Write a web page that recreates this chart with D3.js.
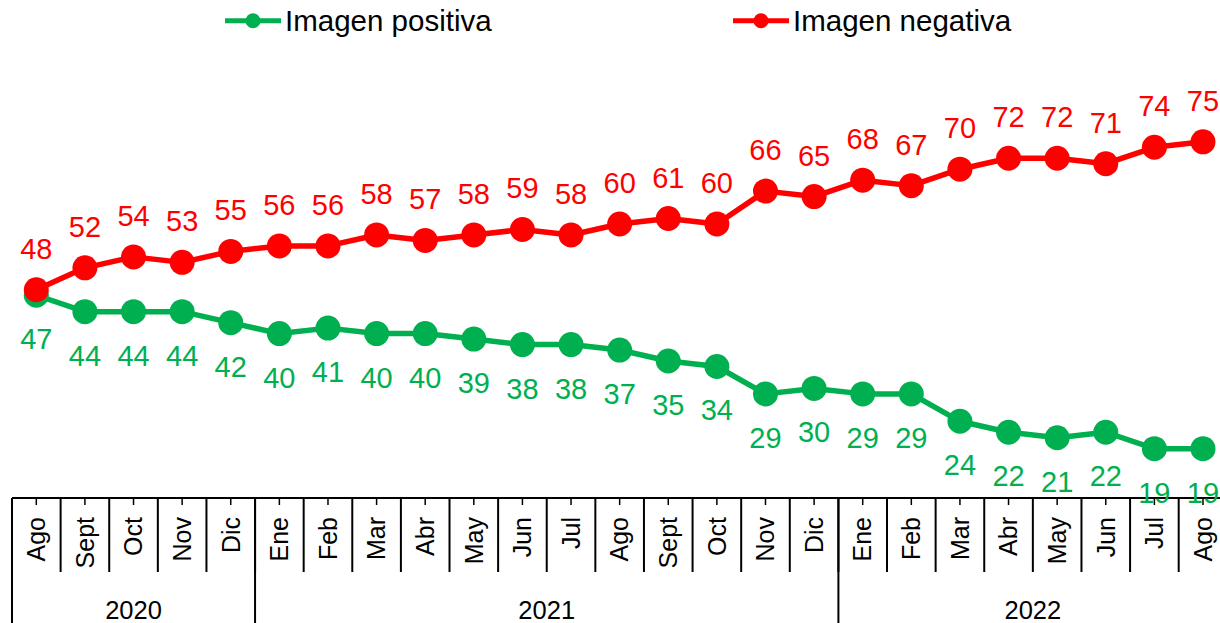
<!DOCTYPE html>
<html>
<head>
<meta charset="utf-8">
<script src="https://cdn.jsdelivr.net/npm/d3@7"></script>
<style>
  html, body { margin: 0; padding: 0; background: #fff; }
  svg { display: block; font-family: "Liberation Sans", Arial, sans-serif; }
</style>
</head>
<body>
<svg id="chart" width="1220" height="623"></svg>
<script>
const months = ["Ago","Sept","Oct","Nov","Dic",
  "Ene","Feb","Mar","Abr","May","Jun","Jul","Ago","Sept","Oct","Nov","Dic",
  "Ene","Feb","Mar","Abr","May","Jun","Jul","Ago"];
const years = ["2020","2021","2022"];
const yearCounts = [5, 12, 8];
const positiva = [47,44,44,44,42,40,41,40,40,39,38,38,37,35,34,29,30,29,29,24,22,21,22,19,19];
const negativa = [48,52,54,53,55,56,56,58,57,58,59,58,60,61,60,66,65,68,67,70,72,72,71,74,75];
const seriesNames = ["Imagen positiva", "Imagen negativa"];
const colors = ["#00B050", "#FF0000"];

const svg = d3.select("#chart");
const keys = months.map((m, i) => i);
const x = d3.scaleBand().domain(keys).range([12, 1227.3]).padding(0);
const y = d3.scaleLinear().domain([10, 80]).range([498, 114.4]);
const cx = i => x(i) + x.bandwidth() / 2;

// axis
const ax = svg.append("g");
ax.append("line").attr("x1", 12).attr("x2", 1227.3).attr("y1", y(10)).attr("y2", y(10))
  .attr("stroke", "#000").attr("stroke-width", 2.2);
ax.selectAll("line.ct").data(keys).join("line").attr("class", "ct")
  .attr("x1", cx).attr("x2", cx).attr("y1", y(10)).attr("y2", y(10) + 7)
  .attr("stroke", "#000").attr("stroke-width", 1.5);
ax.selectAll("line.ms").data(keys).join("line").attr("class", "ms")
  .attr("x1", i => x(i)).attr("x2", i => x(i)).attr("y1", y(10)).attr("y2", 572)
  .attr("stroke", "#000").attr("stroke-width", 2);
let starts = [];
let acc = 0;
yearCounts.forEach(c => { starts.push(acc); acc += c; });
ax.selectAll("line.ys").data(starts).join("line").attr("class", "ys")
  .attr("x1", s => x(s)).attr("x2", s => x(s)).attr("y1", y(10)).attr("y2", 623)
  .attr("stroke", "#000").attr("stroke-width", 2);
ax.selectAll("text.ml").data(keys).join("text").attr("class", "ml")
  .attr("transform", i => `translate(${cx(i)},517) rotate(-90)`)
  .attr("text-anchor", "end").attr("dy", "0.35em")
  .attr("font-size", 25).attr("fill", "#000")
  .text(i => months[i]);
ax.selectAll("text.yl").data(years).join("text").attr("class", "yl")
  .attr("x", (yr, k) => {
    const a = x(starts[k]);
    const b = x(starts[k] + yearCounts[k] - 1) + x.bandwidth();
    return (a + b) / 2;
  })
  .attr("y", 619).attr("text-anchor", "middle").attr("font-size", 25.5).attr("fill", "#000")
  .text(d => d);

// series
const line = d3.line().x((d, i) => cx(i)).y(d => y(d));
[positiva, negativa].forEach((vals, s) => {
  const g = svg.append("g");
  g.append("path").datum(vals).attr("d", line).attr("fill", "none")
    .attr("stroke", colors[s]).attr("stroke-width", 5.5).attr("stroke-linejoin", "round");
  g.selectAll("circle").data(vals).join("circle")
    .attr("cx", (d, i) => cx(i)).attr("cy", d => y(d)).attr("r", 12.5)
    .attr("fill", colors[s]);
});
[positiva, negativa].forEach((vals, s) => {
  svg.append("g").selectAll("text").data(vals).join("text")
    .attr("x", (d, i) => cx(i))
    .attr("y", d => s === 0 ? y(d) + 54 : y(d) - 31)
    .attr("text-anchor", "middle").attr("font-size", 29).attr("fill", colors[s])
    .text(d => d);
});

// legend
const legX = [225, 733];
seriesNames.forEach((name, s) => {
  const g = svg.append("g").attr("transform", `translate(${legX[s]},20.7)`);
  g.append("line").attr("x1", 0).attr("x2", 56).attr("y1", 0).attr("y2", 0)
    .attr("stroke", colors[s]).attr("stroke-width", 5);
  g.append("circle").attr("cx", 28).attr("cy", 0).attr("r", 7.5).attr("fill", colors[s]);
  g.append("text").attr("x", 60).attr("y", 10).attr("font-size", 29.5).attr("fill", "#000").text(name);
});
</script>
</body>
</html>
